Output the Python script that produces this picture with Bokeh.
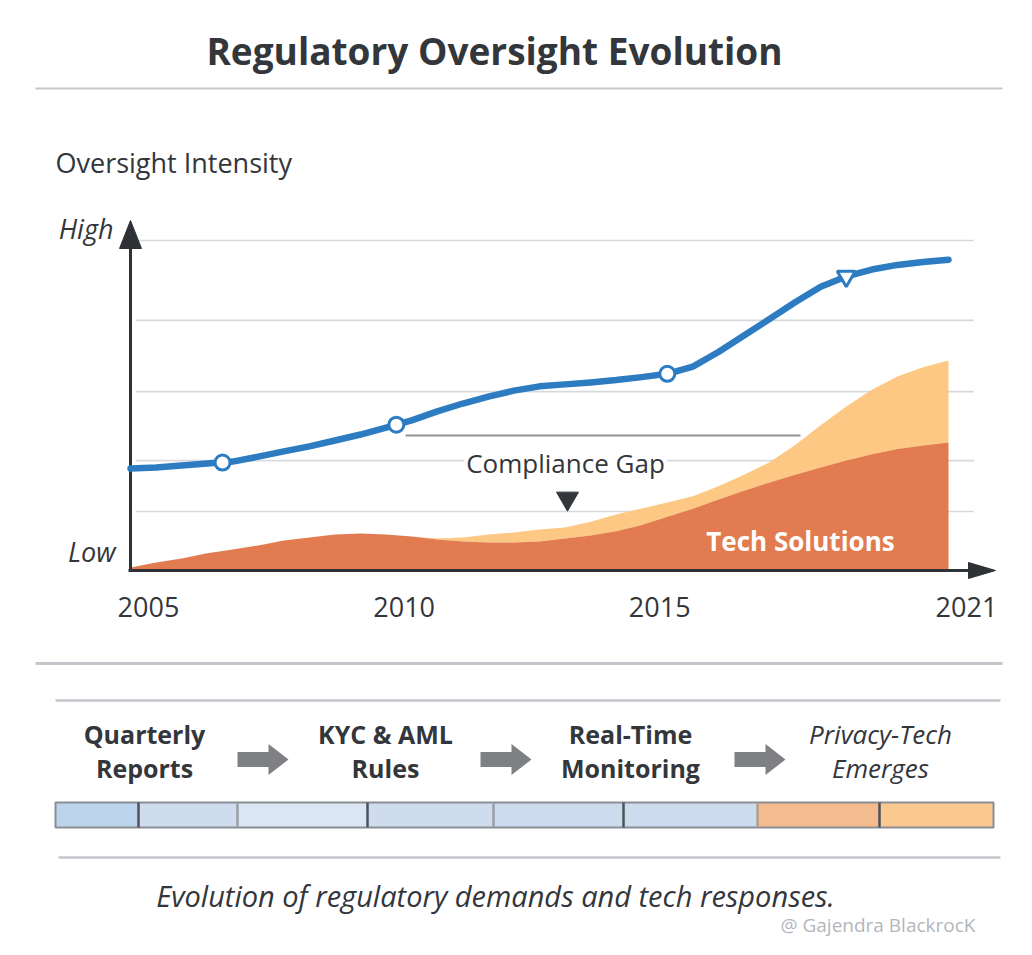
from bokeh.plotting import figure
from bokeh.models import Range1d, Label
from bokeh.core.properties import value
from bokeh.embed import file_html
from bokeh.resources import INLINE

# ---------------- data ----------------
years = [2005.0, 2005.5, 2006.0, 2006.5, 2007.0, 2007.5, 2008.0, 2008.5, 2009.0, 2009.5,
         2010.0, 2010.5, 2011.0, 2011.5, 2012.0, 2012.5, 2013.0, 2013.5, 2014.0, 2014.5,
         2015.0, 2015.5, 2016.0, 2016.5, 2017.0, 2017.5, 2018.0, 2018.5, 2019.0, 2019.5,
         2020.0, 2020.5, 2021.0]
oversight = [30.9, 31.2, 31.8, 32.4, 33.0, 34.5, 36.1, 37.6, 39.4, 41.2,
             43.3, 45.5, 48.2, 50.6, 52.7, 54.5, 55.8, 56.4, 57.0, 57.7,
             58.6, 59.6, 61.8, 66.2, 71.2, 76.2, 81.3, 86.0, 89.1, 91.2,
             92.6, 93.5, 94.2]
tech_solutions = [0.9, 2.4, 3.6, 5.2, 6.4, 7.6, 9.1, 10.0, 10.9, 11.2,
                  10.9, 10.3, 9.4, 8.8, 8.5, 8.5, 8.8, 9.7, 10.6, 11.9,
                  13.8, 16.3, 18.7, 21.5, 24.2, 26.7, 29.0, 31.2, 33.3, 35.2,
                  36.8, 37.9, 38.8]
compliance_gap_top = [0.9, 2.4, 3.6, 5.2, 6.4, 7.6, 9.1, 10.0, 10.9, 11.2,
                      10.9, 10.3, 9.7, 10.0, 10.9, 11.5, 12.4, 13.0, 14.8, 17.0,
                      18.8, 20.6, 22.5, 25.5, 29.0, 32.8, 38.0, 44.0, 49.7, 54.8,
                      58.8, 61.6, 63.6]
milestone_years = [2006.8, 2010.2, 2015.5]
milestone_values = [32.7, 44.2, 59.6]
peak_year = [2019.0]
peak_value = [89.1]
grid_levels = [100, 75.8, 54.2, 33.3, 17.9]
tick_years = [2005, 2010, 2015, 2021]
tick_labels = ["2005", "2010", "2015", "2021"]

stage_line1 = ["Quarterly", "KYC & AML", "Real-Time", "Privacy-Tech"]
stage_line2 = ["Reports", "Rules", "Monitoring", "Emerges"]
timeline_bounds = [55, 138, 237, 367, 493, 623, 757, 879, 993]
timeline_colors = ["#bcd3ec", "#cfdcee", "#dae6f4", "#cfdcee", "#cddbee", "#cddbee",
                   "#f4bb8f", "#fbc990"]

# ---------------- layout constants ----------------
FONT = "Open Sans"
DARK = "#33363b"
W, H = 1016, 939
OFF = 0                                # page offset of the canvas
X0_PX, PX_PER_YEAR = 130.0, 51.125     # page px of 2005, px per year
Y0_PX, PX_PER_UNIT = 570.0, 3.3        # page px of intensity 0, px per unit

x_lo = 2005 + (OFF - X0_PX) / PX_PER_YEAR
x_hi = 2005 + (OFF + W - X0_PX) / PX_PER_YEAR
y_lo = (Y0_PX - (OFF + H)) / PX_PER_UNIT
y_hi = (Y0_PX - OFF) / PX_PER_UNIT

p = figure(width=W, height=H, x_range=Range1d(x_lo, x_hi), y_range=Range1d(y_lo, y_hi),
           output_backend="svg", toolbar_location=None,
           x_axis_location=None, y_axis_location=None, min_border=0,
           outline_line_color=None, background_fill_color="white",
           border_fill_color="white")
p.grid.visible = False
p.extra_x_ranges = {"px": Range1d(OFF, OFF + W)}
p.extra_y_ranges = {"py": Range1d(OFF + H, OFF)}
PX = dict(x_range_name="px", y_range_name="py")

def txt(x, y, s, size, style="normal", color=DARK, align="center", bg=None):
    lab = Label(x=x, y=y, text=s, text_font=FONT, text_font_size=size,
                text_font_style=style, text_color=color, text_align=align,
                text_baseline="middle", x_range_name="px", y_range_name="py")
    if bg:
        lab.background_fill_color = bg
        lab.padding = 2
    p.add_layout(lab)

# title + rules
txt(494, 50, "Regulatory Oversight Evolution", "37px", "bold")
p.segment(x0=[35, 35, 55, 58], x1=[1002, 1002, 1000, 1000], y0=[88, 663, 700, 857],
          y1=[88, 663, 700, 857], line_color="#c3c7cc", line_width=[2, 3, 2.5, 2.5], **PX)
txt(55, 162, "Oversight Intensity", "27px", align="left")

# grid lines
p.segment(x0=2005.1, x1=2021.5, y0=grid_levels, y1=grid_levels,
          line_color="#d6d9dd", line_width=1.6)

# areas
p.varea(x=years, y1=tech_solutions, y2=compliance_gap_top, fill_color="#fcc883")
p.varea(x=years, y1=0, y2=tech_solutions, fill_color="#e27c50")

# compliance gap annotation
p.segment(x0=[405], x1=[800], y0=[435], y1=[435], line_color="#8f9398", line_width=2, **PX)
txt(565, 462, "Compliance Gap", "26px", bg="white")
p.scatter(x=[567], y=[498], marker="inverted_triangle", size=22, color=DARK, **PX)
txt(800, 540, "Tech Solutions", "26px", "bold", color="white")

# axes with arrowheads
p.segment(x0=[130, 128], x1=[130, 975], y0=[571, 570], y1=[240, 570],
          line_color="#2e3136", line_width=3, **PX)
p.patches(xs=[[119, 130, 141], [968, 995, 968]], ys=[[248, 220, 248], [562, 570, 578]],
          fill_color="#2e3136", line_color="#2e3136", **PX)
txt(113, 228, "High", "27px", "italic", align="right")
txt(115, 551, "Low", "27px", "italic", align="right")

# x tick labels
p.text(x=tick_years, y=(Y0_PX - 606) / PX_PER_UNIT, text=tick_labels, x_offset=18,
       text_font=value(FONT), text_font_size="27px", text_color=DARK,
       text_align="center", text_baseline="middle")

# oversight line
p.line(years, oversight, line_width=6.5, line_color="#2d7cc1", line_join="round",
       line_cap="round")
p.scatter(milestone_years, milestone_values, marker="circle", size=15,
          fill_color="white", line_color="#2d7cc1", line_width=3)
p.scatter(peak_year, peak_value, marker="inverted_triangle", size=18,
          fill_color="white", line_color="#2d7cc1", line_width=3)

# stages
stage_x = [144, 385, 630, 880]
for y, row in ((733, stage_line1), (767, stage_line2)):
    p.text(x=stage_x[:3], y=y, text=row[:3], text_font=value(FONT),
           text_font_size="25px", text_font_style="bold", text_color=DARK,
           text_align="center", text_baseline="middle", **PX)
    p.text(x=stage_x[3:], y=y, text=row[3:], text_font=value(FONT),
           text_font_size="26px", text_font_style="italic", text_color=DARK,
           text_align="center", text_baseline="middle", **PX)

# block arrows between stages
arrow_cx = [262, 505, 759]
xs, ys = [], []
for cx in arrow_cx:
    cy = 759
    xs.append([cx - 25, cx + 6, cx + 6, cx + 26, cx + 6, cx + 6, cx - 25])
    ys.append([cy - 7.5, cy - 7.5, cy - 15.5, cy, cy + 15.5, cy + 7.5, cy + 7.5])
p.patches(xs=xs, ys=ys, fill_color="#7e8084", line_color=None, **PX)

# timeline bar
p.quad(left=timeline_bounds[:-1], right=timeline_bounds[1:], top=802, bottom=827,
       fill_color=timeline_colors, line_color=None, **PX)
p.quad(left=[55], right=[993], top=[802], bottom=[827], fill_color=None,
       line_color="#8a8e94", line_width=2, **PX)
sep_colors = ["#4f5358", "#9a9ea3", "#4f5358", "#9a9ea3", "#4f5358", "#b0a090", "#4f5358"]
p.segment(x0=timeline_bounds[1:-1], x1=timeline_bounds[1:-1], y0=802, y1=827,
          line_color=sep_colors, line_width=2.5, **PX)

# caption + watermark
txt(495, 895, "Evolution of regulatory demands and tech responses.", "29px", "italic")
txt(780, 924, "@ Gajendra BlackrocK", "19px", color="#b3b6bb", align="left")

open("out.html", "w").write(file_html(p, INLINE))
